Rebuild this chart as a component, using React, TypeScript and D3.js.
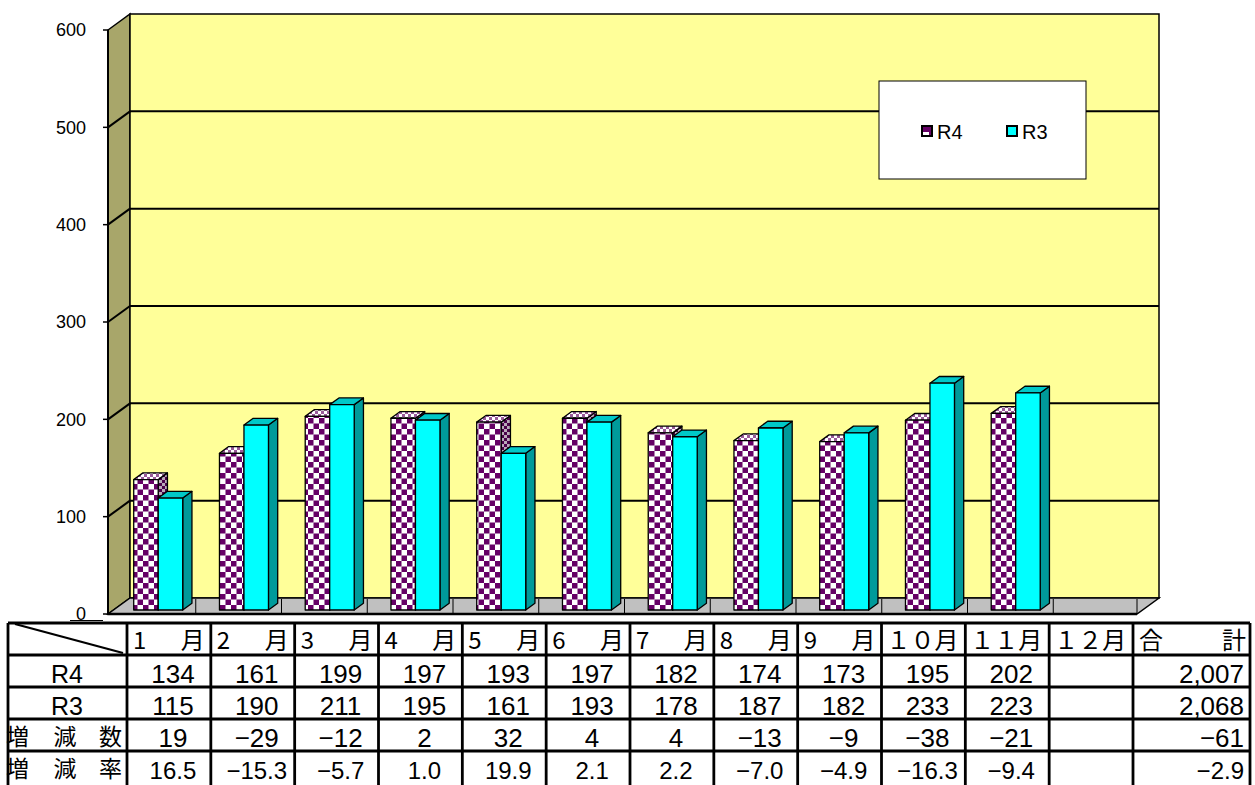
import React from 'react';
import * as d3 from 'd3';

const months = ['1月', '2月', '3月', '4月', '5月', '6月', '7月', '8月', '9月', '10月', '11月', '12月'];
const headNums = ['1', '2', '3', '4', '5', '6', '7', '8', '9', '１０', '１１', '１２'];
const seriesNames = ['R4', 'R3'];
const r4Values = [134, 161, 199, 197, 193, 197, 182, 174, 173, 195, 202, null];
const r3Values = [115, 190, 211, 195, 161, 193, 178, 187, 182, 233, 223, null];
const diffValues = [19, -29, -12, 2, 32, 4, 4, -13, -9, -38, -21, null];
const rateValues = [16.5, -15.3, -5.7, 1.0, 19.9, 2.1, 2.2, -7.0, -4.9, -16.3, -9.4, null];
const totals = { r4: 2007, r3: 2068, diff: -61, rate: -2.9 };
const yTicks = [0, 100, 200, 300, 400, 500, 600];

const W = 1255;
const H = 785;
// 3d geometry of the plot box
const DX = 22;
const DY = 16;
const FRONT_L = 108;
const FRONT_R = 1137;
const BAR_F = 0.25; // depth where bars start
const BAR_D = 0.42; // bar depth as fraction of the box depth

const LATIN = '"Liberation Sans", Arial, sans-serif';
const CJK = '"Noto Sans CJK JP", "Noto Sans CJK SC", sans-serif';

export default function App() {
  const x = d3.scaleBand<string>().domain(months).range([FRONT_L, FRONT_R]).padding(0);
  const x1 = d3.scaleBand<string>().domain(seriesNames).range([0, x.bandwidth()])
    .paddingInner(0).paddingOuter(0.75).align(0.55);
  const y = d3.scaleLinear().domain([0, 600]).range([614, 30]);

  const y0 = y(0);
  const yTop = y(600);
  const backL = FRONT_L + DX;
  const backR = FRONT_R + DX;

  const bdx = DX * BAR_D;
  const bdy = DY * BAR_D;
  const shiftX = DX * BAR_F;
  const shiftY = DY * BAR_F;

  const series = [
    { name: 'R4', values: r4Values, front: 'url(#chk)', side: 'url(#chkSide)', top: 'url(#chkTop)' },
    { name: 'R3', values: r3Values, front: '#00ffff', side: '#009a9a', top: '#00c8c8' },
  ];

  // table geometry
  const col = d3.scaleBand<string>().domain(months).range([127, 1133]).padding(0);
  const rowTops = [623, 655, 687, 719, 751, 785];
  const fmtInt = d3.format(',');
  const fmtRate = d3.format('.1f');

  const rows = [
    { label: 'R4', values: r4Values.map(v => (v == null ? '' : fmtInt(v))), total: fmtInt(totals.r4), size: 26 },
    { label: 'R3', values: r3Values.map(v => (v == null ? '' : fmtInt(v))), total: fmtInt(totals.r3), size: 26 },
    { label: ['増', '減', '数'], values: diffValues.map(v => (v == null ? '' : fmtInt(v))), total: fmtInt(totals.diff), size: 26 },
    { label: ['増', '減', '率'], values: rateValues.map(v => (v == null ? '' : fmtRate(v))), total: fmtRate(totals.rate), size: 24 },
  ];

  return (
    <svg width={W} height={H} style={{ position: 'absolute', left: 0, top: 0, background: '#fff' }}>
      <defs>
        <pattern id="chk" patternUnits="userSpaceOnUse" width={11} height={11}>
          <rect width={11} height={11} fill="#ffffff" />
          <rect width={5.5} height={5.5} fill="#660066" />
          <rect x={5.5} y={5.5} width={5.5} height={5.5} fill="#660066" />
        </pattern>
        <pattern id="chkSide" patternUnits="userSpaceOnUse" width={6} height={6}>
          <rect width={6} height={6} fill="#b9a9b9" />
          <rect width={3} height={3} fill="#4a004a" />
          <rect x={3} y={3} width={3} height={3} fill="#4a004a" />
        </pattern>
        <pattern id="chkTop" patternUnits="userSpaceOnUse" width={6} height={6}>
          <rect width={6} height={6} fill="#ffffff" />
          <rect width={3} height={3} fill="#9a5a9a" />
          <rect x={3} y={3} width={3} height={3} fill="#9a5a9a" />
        </pattern>
      </defs>

      {/* walls */}
      <polygon
        points={`${FRONT_L},${yTop} ${backL},${yTop - DY} ${backL},${y0 - DY} ${FRONT_L},${y0}`}
        fill="#a8a66a" stroke="#000" strokeWidth={1.5} />
      <rect x={backL} y={yTop - DY} width={backR - backL} height={y0 - yTop}
        fill="#ffff99" stroke="#000" strokeWidth={1.5} />
      <polygon
        points={`${FRONT_L},${y0} ${FRONT_R},${y0} ${backR},${y0 - DY} ${backL},${y0 - DY}`}
        fill="#c0c0c0" stroke="#000" strokeWidth={1.5} />

      {/* grid */}
      {yTicks.filter(t => t > 0 && t < 600).map(t => (
        <g key={t}>
          <line x1={backL} x2={backR} y1={y(t) - DY} y2={y(t) - DY} stroke="#000" strokeWidth={2} />
          <line x1={FRONT_L} x2={backL} y1={y(t)} y2={y(t) - DY} stroke="#000" strokeWidth={2} />
        </g>
      ))}
      {months.slice(1).map(m => (
        <line key={m} x1={x(m)! + 2} x2={x(m)! + 2} y1={y0 - DY + 1} y2={y0} stroke="#000" strokeWidth={1} />
      ))}
      <line x1={FRONT_R} x2={FRONT_R} y1={y0 - DY + 1} y2={y0} stroke="#000" strokeWidth={1} />
      <line x1={FRONT_L} x2={FRONT_R} y1={y0} y2={y0} stroke="#000" strokeWidth={2.5} />
      <line x1={FRONT_L} x2={FRONT_L} y1={yTop} y2={y0} stroke="#000" strokeWidth={2} />

      {/* y axis */}
      {yTicks.map(t => (
        <g key={t}>
          <line x1={103} x2={FRONT_L} y1={y(t)} y2={y(t)} stroke="#000" strokeWidth={1.5} />
          <text x={86} y={y(t)} dy="0.35em" textAnchor="end" fontFamily={LATIN} fontSize={18} fill="#000">{t}</text>
        </g>
      ))}

      {/* bars */}
      {months.map((m, i) => (
        <g key={m}>
          {series.map(s => {
            const v = s.values[i];
            if (v == null) return null;
            const bx = x(m)! + x1(s.name)! + shiftX;
            const bw = x1.bandwidth();
            const base = y0 - shiftY;
            const top = base - (y0 - y(v));
            return (
              <g key={s.name} stroke="#000" strokeWidth={1.3} strokeLinejoin="round">
                <polygon points={`${bx + bw},${top} ${bx + bw + bdx},${top - bdy} ${bx + bw + bdx},${base - bdy} ${bx + bw},${base}`} fill={s.side} />
                <polygon points={`${bx},${top} ${bx + bdx},${top - bdy} ${bx + bw + bdx},${top - bdy} ${bx + bw},${top}`} fill={s.top} />
                <rect x={bx} y={top} width={bw} height={base - top} fill={s.front} />
              </g>
            );
          })}
        </g>
      ))}

      {/* legend */}
      <rect x={879} y={81} width={207} height={98} fill="#fff" stroke="#000" strokeWidth={1} />
      {seriesNames.map((n, i) => (
        <g key={n} transform={`translate(${922 + i * 85},126)`}>
          <rect width={10} height={10} fill={i === 0 ? '#660066' : '#00ffff'} stroke="#000" strokeWidth={2} />
          {i === 0 && <rect x={1} y={6} width={6} height={3} fill="#fff" />}
          <text x={15} y={12.5} fontFamily={LATIN} fontSize={20} fill="#000">{n}</text>
        </g>
      ))}

      {/* table */}
      <line x1={70} x2={103} y1={620.5} y2={620.5} stroke="#000" strokeWidth={1} />
      <rect x={8} y={rowTops[0]} width={1250 - 8} height={H - rowTops[0]} fill="#fff" />
      <g stroke="#000" strokeWidth={2.8}>
        {rowTops.slice(0, 5).map(t => (
          <line key={t} x1={8} x2={1250} y1={t} y2={t} />
        ))}
        <line x1={8} x2={8} y1={rowTops[0]} y2={H} />
        <line x1={127} x2={127} y1={rowTops[0]} y2={H} />
        {months.map(m => (
          <line key={m} x1={col(m)! + col.bandwidth()} x2={col(m)! + col.bandwidth()} y1={rowTops[0]} y2={H} />
        ))}
        <line x1={1250} x2={1250} y1={rowTops[0]} y2={H} />
        <line x1={15} x2={123} y1={rowTops[0] + 1} y2={rowTops[1] - 2} strokeWidth={2.2} />
      </g>

      {/* header */}
      {months.map((m, i) => {
        const cx = col(m)!;
        const by = rowTops[0] + 26;
        if (i < 9) {
          return (
            <g key={m} fontFamily={CJK} fontSize={24} fill="#000">
              <text x={cx + 6} y={by}>{headNums[i]}</text>
              <text x={cx + col.bandwidth() - 6} y={by} textAnchor="end">月</text>
            </g>
          );
        }
        return (
          <text key={m} x={cx + 5} y={by} fontFamily={CJK} fontSize={24} fill="#000">{headNums[i] + '月'}</text>
        );
      })}
      <text x={1139} y={rowTops[0] + 26} fontFamily={CJK} fontSize={24}>合</text>
      <text x={1246} y={rowTops[0] + 26} fontFamily={CJK} fontSize={24} textAnchor="end">計</text>

      {/* rows */}
      {rows.map((r, ri) => {
        const by = rowTops[ri + 1] + 27.5;
        return (
          <g key={ri}>
            {typeof r.label === 'string' ? (
              <text x={67} y={by} textAnchor="middle" fontFamily={LATIN} fontSize={25}>{r.label}</text>
            ) : (
              <g fontFamily={CJK} fontSize={23}>
                <text x={6} y={by - 2}>{r.label[0]}</text>
                <text x={65} y={by - 2} textAnchor="middle">{r.label[1]}</text>
                <text x={122} y={by - 2} textAnchor="end">{r.label[2]}</text>
              </g>
            )}
            {months.map((m, i) => (
              <text key={m} x={col(m)! + col.bandwidth() / 2 + 4} y={by} textAnchor="middle"
                fontFamily={LATIN} fontSize={r.size}>{r.values[i]}</text>
            ))}
            <text x={1244} y={by} textAnchor="end" fontFamily={LATIN} fontSize={r.size}>{r.total}</text>
          </g>
        );
      })}
    </svg>
  );
}
